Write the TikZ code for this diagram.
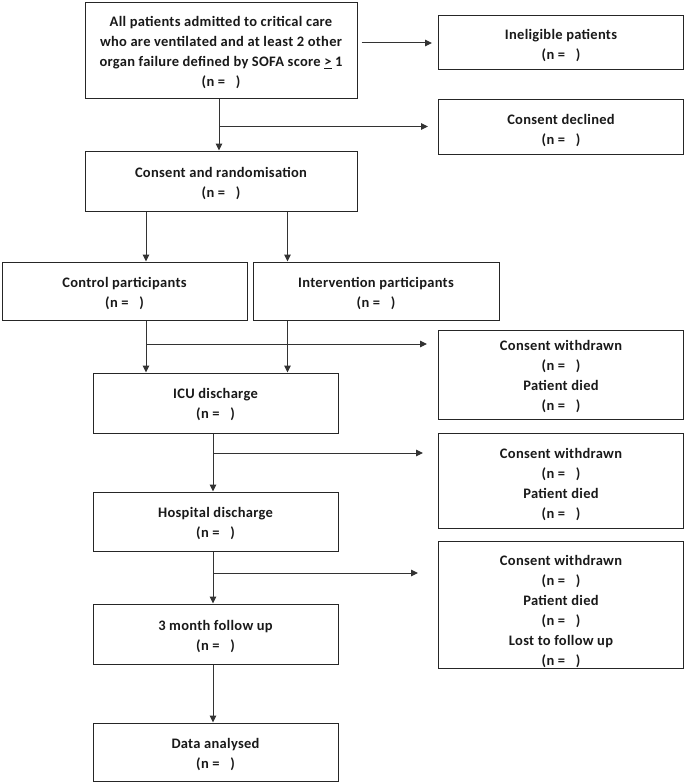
\documentclass[tikz,border=0pt]{standalone}
\usepackage{fontspec}
\setmainfont{Carlito}[LetterSpace=2]
\usetikzlibrary{arrows.meta}
\newcommand\lift[1]{\rule{0pt}{#1}}
\begin{document}
\begin{tikzpicture}[x=1pt,y=-1pt,
  box/.style={draw=black!85, line width=1pt, inner sep=0pt, align=center,
    font=\fontsize{14.5}{20}\selectfont\bfseries, text=black!90},
  arr/.style={draw=black!80, line width=1pt, -{Triangle[length=7pt,width=6.5pt]}}]
\useasboundingbox (0,0) rectangle (685,784);
\node[box, minimum width=272pt, minimum height=95pt] (top) at (221,50.5)
  {\lift{14.5pt}All patients admitted to critical care\\who are ventilated and at least 2 other\\organ failure defined by SOFA score \underline{>} 1\\(n =\ \ \ )};
\node[box, minimum width=245pt, minimum height=54pt] (inel) at (561,43) {\lift{16pt}Ineligible patients\\(n =\ \ \ )};
\node[box, minimum width=245pt, minimum height=55pt] (decl) at (561,126.5) {\lift{18pt}Consent declined\\(n =\ \ \ )};
\node[box, minimum width=272pt, minimum height=60pt] (cr) at (221,181) {\lift{14.5pt}Consent and randomisation\\(n =\ \ \ )};
\node[box, minimum width=245pt, minimum height=58pt] (ctrl) at (124.5,291) {\lift{15pt}Control participants\\(n =\ \ \ )};
\node[box, minimum width=246pt, minimum height=58pt] (intv) at (376,291) {\lift{15pt}Intervention participants\\(n =\ \ \ )};
\node[box, minimum width=245pt, minimum height=89pt] (cw1) at (561,374.5) {\lift{14pt}Consent withdrawn\\(n =\ \ \ )\\Patient died\\(n =\ \ \ )};
\node[box, minimum width=245pt, minimum height=60pt] (icu) at (215.5,403) {\lift{12.5pt}ICU discharge\\(n =\ \ \ )};
\node[box, minimum width=245pt, minimum height=95pt] (cw2) at (561,480.5) {\lift{18.5pt}Consent withdrawn\\(n =\ \ \ )\\Patient died\\(n =\ \ \ )};
\node[box, minimum width=245pt, minimum height=59pt] (hosp) at (215.5,521.5) {\lift{14.5pt}Hospital discharge\\(n =\ \ \ )};
\node[box, minimum width=245pt, minimum height=125pt] (cw3) at (561,605) {\lift{24pt}Consent withdrawn\\(n =\ \ \ )\\Patient died\\(n =\ \ \ )\\Lost to follow up\\(n =\ \ \ )};
\node[box, minimum width=245pt, minimum height=60pt] (fu) at (215.5,634) {\lift{14.5pt}3 month follow up\\(n =\ \ \ )};
\node[box, minimum width=245pt, minimum height=58pt] (data) at (215.5,752) {\lift{14.5pt}Data analysed\\(n =\ \ \ )};
% top -> ineligible
\coordinate (a1) at ([xshift=4pt]top.east |- inel.west);
\coordinate (a1e) at ([xshift=-6pt]inel.west);
\draw[arr] (a1) -- (a1e);
% top -> consent and randomisation, branch to declined
\coordinate (t1) at ([xshift=-2pt]top.south);
\coordinate (t2) at (t1 |- cr.north);
\draw[arr] (t1) -- (t2);
\coordinate (b1) at (t1 |- decl.west);
\coordinate (b1e) at ([xshift=-10pt]decl.west);
\draw[arr] (b1) -- (b1e);
% randomisation -> arms
\coordinate (r1) at (146,0);
\coordinate (r2) at (287.5,0);
\draw[arr] (r1 |- cr.south) -- (r1 |- ctrl.north);
\draw[arr] (r2 |- cr.south) -- (r2 |- intv.north);
% arms -> ICU
\draw[arr] (r1 |- ctrl.south) -- (r1 |- icu.north);
\draw[arr] (r2 |- intv.south) -- (r2 |- icu.north);
\coordinate (b2) at (146,344);
\coordinate (b2e) at ([xshift=-11pt]cw1.west |- b2);
\draw[arr] (b2) -- (b2e);
% ICU -> hospital
\coordinate (c1) at (213,0);
\draw[arr] (c1 |- icu.south) -- (c1 |- hosp.north);
\coordinate (b3) at (213,453);
\coordinate (b3e) at ([xshift=-15pt]cw2.west |- b3);
\draw[arr] (b3) -- (b3e);
% hospital -> follow up
\draw[arr] (c1 |- hosp.south) -- (c1 |- fu.north);
\coordinate (b4) at (213,573);
\coordinate (b4e) at ([xshift=-20pt]cw3.west |- b4);
\draw[arr] (b4) -- (b4e);
% follow up -> data
\draw[arr] (c1 |- fu.south) -- (c1 |- data.north);
\end{tikzpicture}
\end{document}
